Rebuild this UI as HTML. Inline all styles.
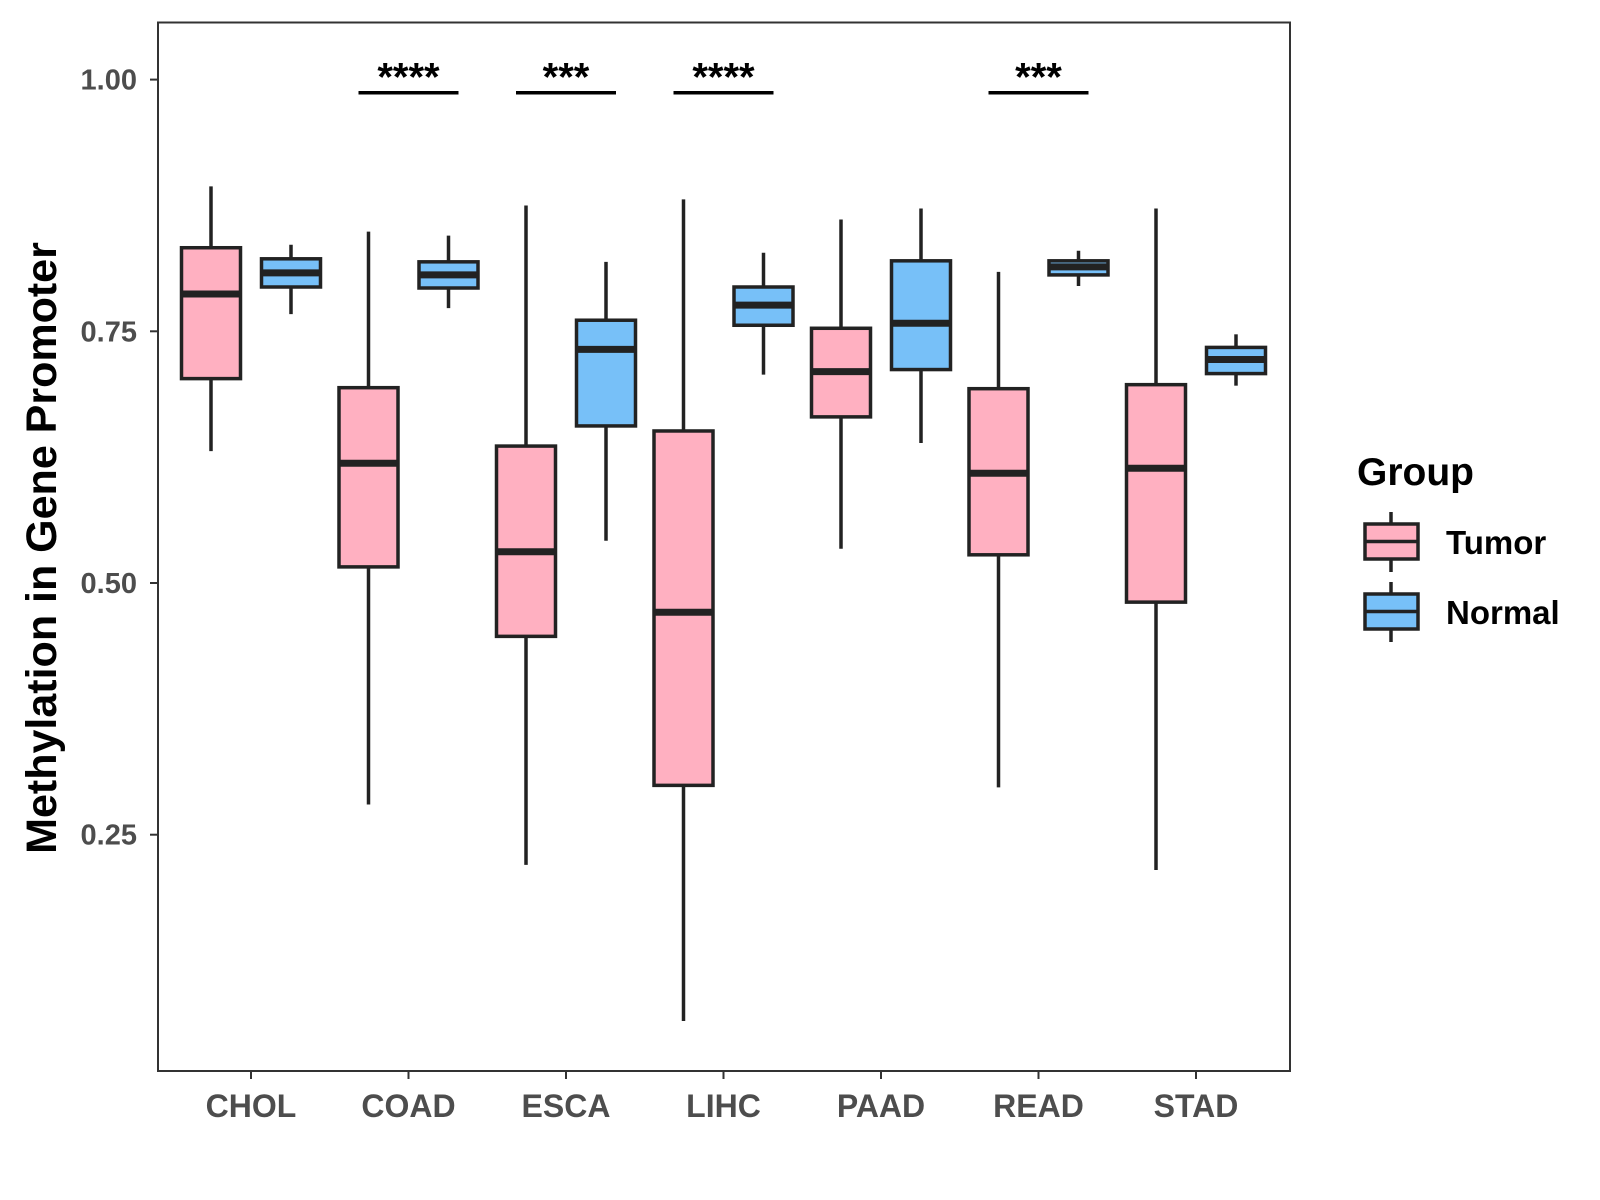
<!DOCTYPE html>
<html><head><meta charset="utf-8"><style>
body{margin:0;background:#fff}
svg{display:block;font-family:"Liberation Sans",sans-serif}
</style></head><body>
<svg id="chart" width="1600" height="1200">
<rect x="0" y="0" width="1600" height="1200" fill="#fff"/>
<g id="marks"></g>
<rect x="158" y="22.5" width="1132" height="1048.5" fill="none" stroke="#333" stroke-width="2"/>
<text transform="translate(56,548) rotate(-90)" text-anchor="middle" font-size="43" font-weight="bold" fill="#000">Methylation in Gene Promoter</text>
<g>
<text x="1357" y="485" font-size="39" font-weight="bold">Group</text>
<g>
<line x1="1391" y1="512" x2="1391" y2="572" stroke="#222" stroke-width="3.5"/>
<rect x="1365" y="524" width="53" height="35" fill="#FFB0C1" stroke="#222" stroke-width="3.5"/>
<line x1="1365" y1="541.5" x2="1418" y2="541.5" stroke="#222" stroke-width="3.5"/>
<text x="1446" y="554" font-size="33" font-weight="bold">Tumor</text>
</g>
<g>
<line x1="1391" y1="582" x2="1391" y2="642" stroke="#222" stroke-width="3.5"/>
<rect x="1365" y="594" width="53" height="35" fill="#77C0F8" stroke="#222" stroke-width="3.5"/>
<line x1="1365" y1="611.5" x2="1418" y2="611.5" stroke="#222" stroke-width="3.5"/>
<text x="1446" y="624" font-size="33" font-weight="bold">Normal</text>
</g>
</g>
</svg>
<script>
const categories=["CHOL","COAD","ESCA","LIHC","PAAD","READ","STAD"];
// [lower whisker, q1, median, q3, upper whisker]
const tumorStats=[[0.631,0.703,0.787,0.833,0.894],[0.280,0.516,0.619,0.694,0.849],[0.220,0.447,0.531,0.636,0.875],[0.065,0.299,0.471,0.651,0.881],[0.534,0.665,0.710,0.753,0.861],[0.297,0.528,0.609,0.693,0.809],[0.215,0.481,0.614,0.697,0.872]];
const normalStats=[[0.767,0.794,0.808,0.822,0.836],[0.773,0.793,0.806,0.819,0.845],[0.542,0.656,0.732,0.761,0.819],[0.707,0.756,0.776,0.794,0.828],[0.639,0.712,0.758,0.820,0.872],[0.795,0.806,0.814,0.820,0.830],[0.696,0.708,0.722,0.734,0.747]];
const significance=["","****","***","****","","***",""];
const yTicks=[0.25,0.5,0.75,1.0];
const yTickLabels=["0.25","0.50","0.75","1.00"];
const sigLevel=0.987;

const NS="http://www.w3.org/2000/svg";
const g=document.getElementById("marks");
function y(v){return 79.6+(1-v)*1006.8;}
function x(i){return 251+i*157.5;}
function el(t,a,p){const e=document.createElementNS(NS,t);for(const k in a)e.setAttribute(k,a[k]);(p||g).appendChild(e);return e;}

yTicks.forEach((v,i)=>{
  const t=el("line",{x1:150,x2:158,y1:y(v),y2:y(v),stroke:"#333","stroke-width":2});
  
  
  const l=el("text",{x:137,y:y(v)+10,"text-anchor":"end","font-size":29,"font-weight":"bold",fill:"#4d4d4d"});
  l.textContent=yTickLabels[i];
  
  
});
categories.forEach((c,i)=>{
  const t=el("line",{x1:x(i),x2:x(i),y1:1071,y2:1079,stroke:"#333","stroke-width":2});
  
  
  const l=el("text",{x:x(i),y:1117,"text-anchor":"middle","font-size":32,"font-weight":"bold",fill:"#4d4d4d"});
  l.textContent=c;
  
  
});
function box(cx,s,fill,name){
  const grp=el("g",{});
  
  
  el("line",{x1:cx,x2:cx,y1:y(s[4]),y2:y(s[0]),stroke:"#222","stroke-width":3.5},grp);
  el("rect",{x:cx-29.5,y:y(s[3]),width:59,height:y(s[1])-y(s[3]),fill:fill,stroke:"#222","stroke-width":3.5},grp);
  el("line",{x1:cx-29.5,x2:cx+29.5,y1:y(s[2]),y2:y(s[2]),stroke:"#222","stroke-width":7},grp);
}
categories.forEach((c,i)=>{
  box(x(i)-40,tumorStats[i],"#FFB0C1","box-tumor-"+c.toLowerCase());
  box(x(i)+40,normalStats[i],"#77C0F8","box-normal-"+c.toLowerCase());
  if(significance[i]){
    const b=el("line",{x1:x(i)-50,x2:x(i)+50,y1:y(sigLevel),y2:y(sigLevel),stroke:"#000","stroke-width":3.5});
    
    
    const s=el("text",{x:x(i),y:y(sigLevel)-2,"text-anchor":"middle","font-size":40,"font-weight":"bold",fill:"#000"});
    s.textContent=significance[i];
    
    
  }
});
</script>
</body></html>
